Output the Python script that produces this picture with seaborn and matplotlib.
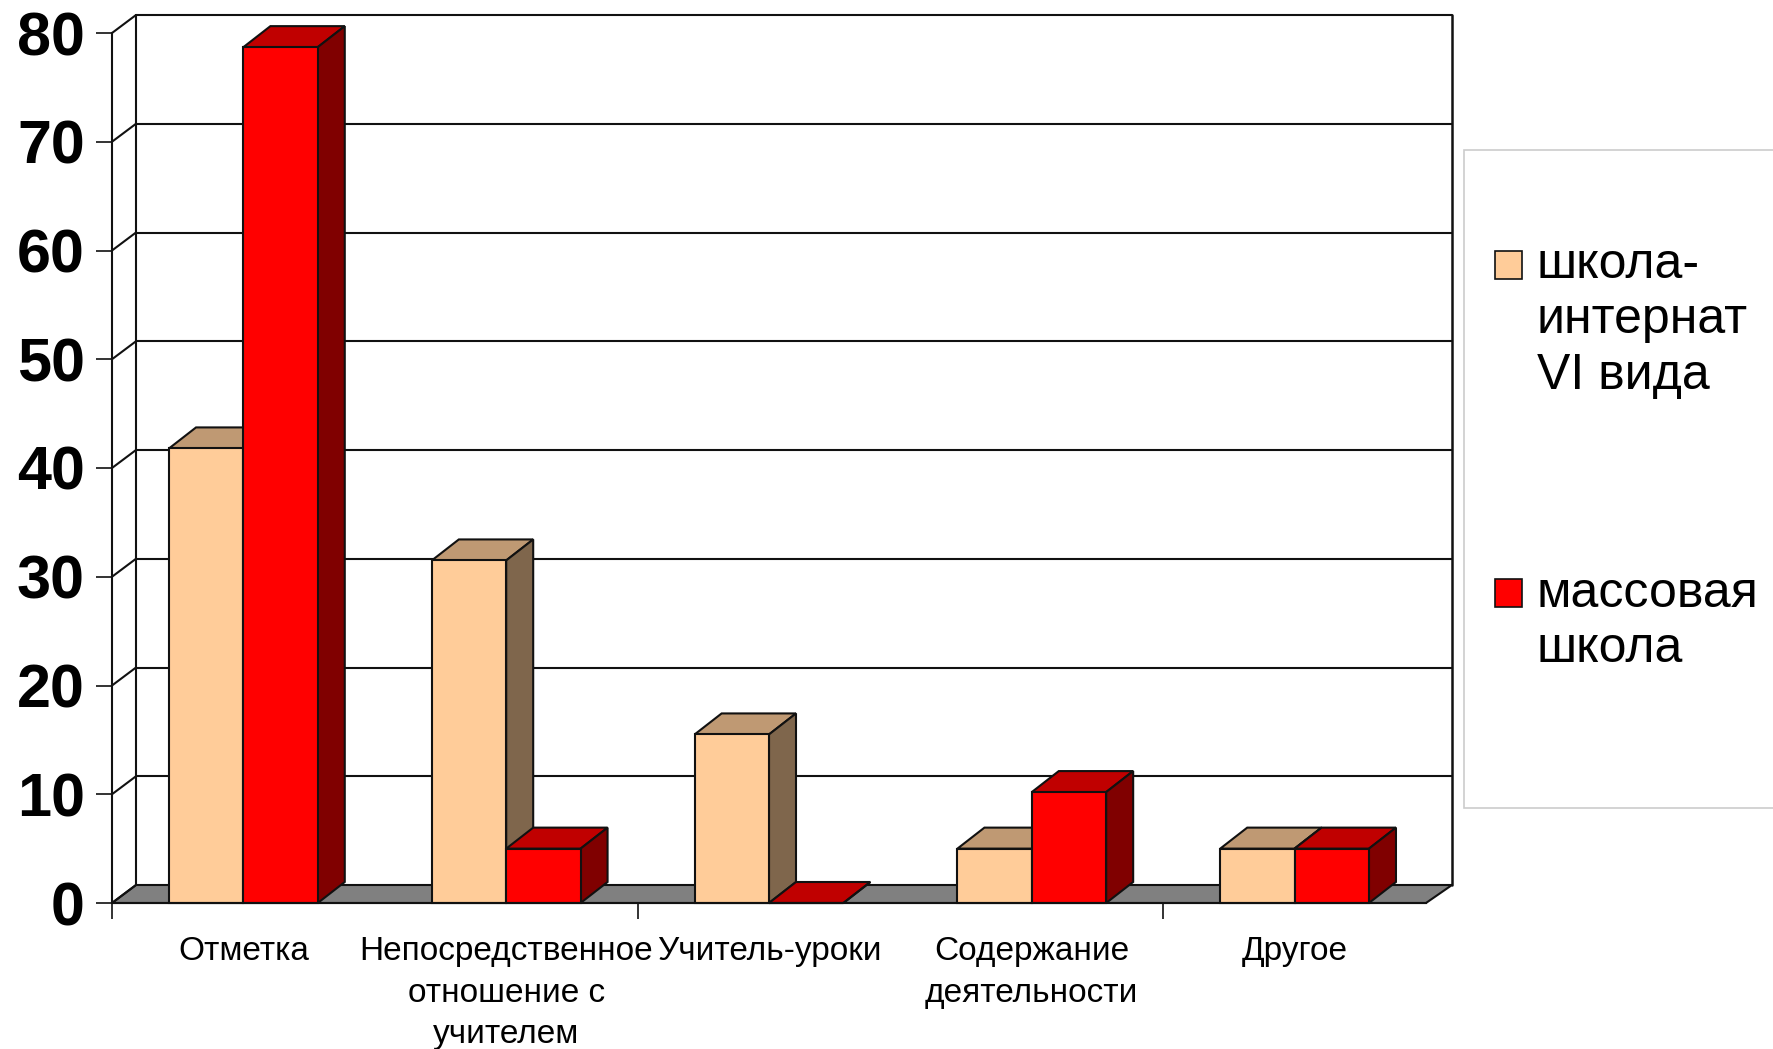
import matplotlib
matplotlib.use("Agg")
import matplotlib.pyplot as plt
from matplotlib.patches import Polygon, Rectangle
import pandas as pd
import seaborn as sns

categories = ["Отметка", "Непосредственное\nотношение с\nучителем", "Учитель-уроки",
              "Содержание\nдеятельности", "Другое"]
series_names = ["школа-\nинтернат\nVI вида", "массовая\nшкола"]
internat = [41.8, 31.5, 15.5, 5, 5]
mass = [78.7, 5, 0, 10.2, 5]
yticks = [0, 10, 20, 30, 40, 50, 60, 70, 80]

face = ["#FFCC99", "#FF0000"]
top = ["#BF9973", "#C00000"]
side = ["#7F664C", "#800000"]
W, H = 1773, 1049

sns.set_style("white")
plt.rcParams["font.family"] = ["Liberation Sans", "DejaVu Sans"]

df = pd.DataFrame({
    "cat": categories * 2,
    "val": internat + mass,
    "ser": [series_names[0]] * 5 + [series_names[1]] * 5,
})

fig = plt.figure(figsize=(W / 100, H / 100), dpi=100, facecolor="white")
ax = fig.add_axes([112 / W, 1 - 903 / H, (1426 - 112) / W, (903 - 33) / H])
sns.barplot(data=df, x="cat", y="val", hue="ser", hue_order=series_names, palette=face,
            saturation=1, width=0.566, gap=0, dodge=True, edgecolor="#111111", linewidth=1.5,
            legend=False, ax=ax, err_kws={"linewidth": 0})

ax.set_xlim(-0.5, 4.5)
ax.set_ylim(0, 80)
ax.set_xlabel("")
ax.set_ylabel("")
ax.patch.set_alpha(0)

XU = 5 / 1314
YU = 80 / 870
DX, DY = 24 * XU, 18 * YU
DXR = 26 * XU
BDX, BDY = 27 * XU, 21 * YU
LW = 1.5
EC = "#111111"

# floor and back wall
ax.add_patch(Polygon([(-0.5, 0), (4.5, 0), (4.5 + DXR, DY), (-0.5 + DX, DY)], closed=True,
                     facecolor="#808080", edgecolor=EC, lw=LW, zorder=1, clip_on=False))
ax.plot([-0.5 + DX] * 2, [DY, 80 + DY], color=EC, lw=LW, zorder=1.5, clip_on=False)
ax.plot([4.5 + DXR] * 2, [DY, 80 + DY], color=EC, lw=LW + 0.3, zorder=1.5, clip_on=False)
for v in yticks:
    ax.plot([-0.5, -0.5 + DX], [v, v + DY], color=EC, lw=LW, zorder=1.5, clip_on=False)
    if v > 0:
        ax.plot([-0.5 + DX, 4.5 + DXR], [v + DY, v + DY], color=EC, lw=LW, zorder=1.5, clip_on=False)

# depth of each bar
n = len(categories)
for i, bar in enumerate(ax.patches[:2 * n]):
    s = i // n
    x0, w, h = bar.get_x(), bar.get_width(), bar.get_height()
    x1 = x0 + w
    base = 3 + s * 0.2
    bar.set_zorder(base + 0.1)
    bar.set_clip_on(False)
    ax.add_patch(Polygon([(x0, h), (x1, h), (x1 + BDX, h + BDY), (x0 + BDX, h + BDY)], closed=True,
                         facecolor=top[s], edgecolor=EC, lw=LW, zorder=base, clip_on=False))
    ax.add_patch(Polygon([(x1, 0), (x1 + BDX, BDY), (x1 + BDX, h + BDY), (x1, h)], closed=True,
                         facecolor=side[s], edgecolor=EC, lw=LW, zorder=base, clip_on=False))

# axes
for name in ["top", "right"]:
    ax.spines[name].set_visible(False)
for name in ["left", "bottom"]:
    ax.spines[name].set_color(EC)
    ax.spines[name].set_linewidth(LW)
    ax.spines[name].set_zorder(4)

ax.set_yticks(yticks)
ax.set_yticklabels([str(v) for v in yticks], fontsize=44, fontweight="bold", color="black")
ax.tick_params(axis="y", length=11.5, width=1.2, pad=8, color=EC, left=True)
ax.set_xticks(range(n))
ax.set_xticklabels(categories, fontsize=24, linespacing=1.43, color="black")
ax.set_xticks([-0.5, 1.5, 3.5], minor=True)
ax.tick_params(axis="x", which="major", length=0, pad=24)
ax.tick_params(axis="x", which="minor", length=11.5, width=1.2, color=EC, bottom=True)

# legend box
def px(x, y):
    return x / W, 1 - y / H

fig.add_artist(Rectangle(px(1464, 808), (W + 20 - 1464) / W, (808 - 150) / H, transform=fig.transFigure,
                         facecolor="white", edgecolor="#CCCCCC", lw=1.2))
for (sy, ty), color, label in zip([(265, 263), (593, 592)], face, series_names):
    fig.add_artist(Rectangle(px(1495, sy + 14), 27 / W, 28 / H, transform=fig.transFigure,
                             facecolor=color, edgecolor=EC, lw=1.2))
    fig.text(*px(1537, ty - 21), label, fontsize=36, va="top", ha="left", linespacing=1.257, color="black")

fig.savefig("out.png", dpi=100)
